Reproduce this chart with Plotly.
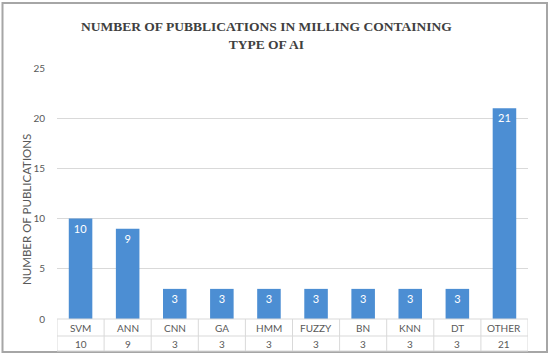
import plotly.graph_objects as go

categories = ["SVM", "ANN", "CNN", "GA", "HMM", "FUZZY", "BN", "KNN", "DT", "OTHER"]
values = [10, 9, 3, 3, 3, 3, 3, 3, 3, 21]
y_ticks = [0, 5, 10, 15, 20, 25]

W, H = 550, 355
ML, MR, MT, MB = 57, 22, 68, 36
pw, ph = W - ML - MR, H - MT - MB

def px_x(p):
    return (p - ML) / pw

def px_y(p):
    return (H - MB - p) / ph

gray_txt = "#595959"
line_col = "#D9D9D9"
font_fam = "Lato, 'Open Sans', sans-serif"

fig = go.Figure()
fig.add_trace(go.Bar(
    x=list(range(len(categories))), y=values, width=0.5,
    marker=dict(color="#4C8ED3", line=dict(width=0)),
    text=[str(v) for v in values], textposition="inside", insidetextanchor="end",
    textfont=dict(color="white", size=11, family=font_fam),
    constraintext="none", cliponaxis=False, hoverinfo="skip",
))

shapes = []
n = len(categories)
# table lines
row1 = px_y(336)
row2 = px_y(351)
for i in range(n + 1):
    shapes.append(dict(type="line", xref="x", yref="paper", x0=i - 0.5, x1=i - 0.5,
                       y0=0, y1=row2, line=dict(color=line_col, width=1)))
for yy in [0, row1, row2]:
    shapes.append(dict(type="line", xref="x", yref="paper", x0=-0.5, x1=n - 0.5,
                       y0=yy, y1=yy, line=dict(color=line_col, width=1)))
# outer frame
shapes.append(dict(type="rect", xref="paper", yref="paper",
                   x0=px_x(2.5), x1=px_x(547), y0=px_y(352), y1=px_y(3),
                   line=dict(color="#A6A6A6", width=2), layer="below"))

annotations = []
for i, (c, v) in enumerate(zip(categories, values)):
    annotations.append(dict(x=i, y=px_y(327.5), xref="x", yref="paper", text=c, showarrow=False,
                            font=dict(size=10, color=gray_txt, family=font_fam), yanchor="middle"))
    annotations.append(dict(x=i, y=px_y(344), xref="x", yref="paper", text=str(v), showarrow=False,
                            font=dict(size=10, color=gray_txt, family=font_fam), yanchor="middle"))

annotations.append(dict(x=px_x(266), y=px_y(36), xref="paper", yref="paper",
                        text="<b>NUMBER OF PUBBLICATIONS IN MILLING CONTAINING<br>TYPE OF AI</b>",
                        showarrow=False, yanchor="middle",
                        font=dict(size=13.5, color="#404040", family="'Liberation Serif', 'DejaVu Serif', serif")))
annotations.append(dict(x=px_x(27), y=px_y(210), xref="paper", yref="paper",
                        text="NUMBER OF PUBLICATIONS", textangle=-90, showarrow=False,
                        xanchor="center", yanchor="middle",
                        font=dict(size=11.5, color=gray_txt, family=font_fam)))

fig.update_layout(
    width=W, height=H,
    margin=dict(l=ML, r=MR, t=MT, b=MB),
    paper_bgcolor="white", plot_bgcolor="white",
    showlegend=False,
    shapes=shapes, annotations=annotations,
    xaxis=dict(range=[-0.5, n - 0.5], showticklabels=False, showgrid=False, zeroline=False,
               showline=False, ticks=""),
    yaxis=dict(range=[0, 25], tickvals=y_ticks, showgrid=True, gridcolor=line_col, gridwidth=1,
               zeroline=False, showline=False, ticks="",
               tickfont=dict(size=10, color=gray_txt, family=font_fam), ticklabelstandoff=11),
)

fig.write_html("out.html", config={"displayModeBar": False},
               post_script="document.body.style.margin='0';document.body.style.overflow='hidden';")
